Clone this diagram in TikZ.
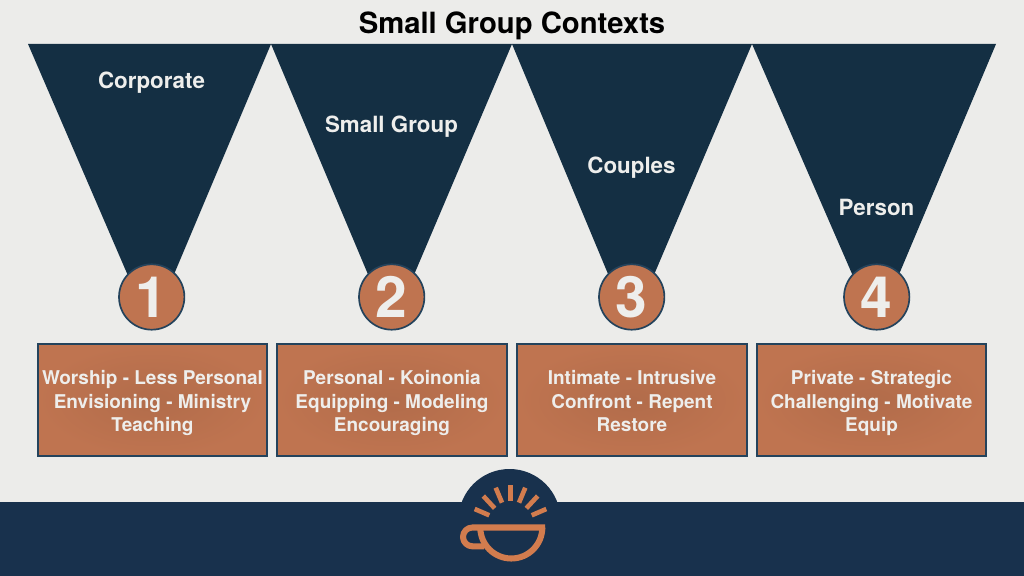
\documentclass[tikz,border=0pt]{standalone}
\usepackage{fontspec}
\setmainfont{TeX Gyre Heros}
\definecolor{paper}{HTML}{ECECEA}
\definecolor{funnel}{HTML}{142F43}
\definecolor{clay}{HTML}{BF7450}
\definecolor{edgeblue}{HTML}{24435C}
\definecolor{band}{HTML}{18314D}
\definecolor{cup}{HTML}{D27C4E}
\definecolor{pale}{HTML}{EEEEEC}
\newcommand{\boxtop}{\rule{0pt}{15.7pt}}
\tikzset{
  funnelshape/.style={fill=funnel},
  numdisc/.style={circle, draw=edgeblue, line width=1.2pt, fill=clay, minimum size=46.5pt, inner sep=0pt,
    text=pale, font=\fontsize{40.5}{40.5}\selectfont\bfseries},
  infobox/.style={rectangle, draw=edgeblue, line width=1.3pt, inner color=clay!93!black, outer color=clay,
    minimum width=163pt, minimum height=80pt, inner sep=0pt, align=center, text=pale,
    font=\fontsize{13.5}{16.7}\selectfont\bfseries,
    execute at end node=\rule[-4pt]{0pt}{4pt}},
  toplabel/.style={text=pale, text height=11.5pt, text depth=3.3pt, font=\fontsize{15.9}{18}\selectfont\bfseries},
  ray/.style={cup, line width=3.3pt},
  cupline/.style={cup, line width=4.3pt, line join=round},
}
\begin{document}
\begin{tikzpicture}[x=0.025cm,y=-0.025cm]
  % Fondo
  \fill[paper] (0,0) rectangle (1024,576);
  \useasboundingbox (0,0) rectangle (1024,576);

  \node[font=\fontsize{20.8}{24}\selectfont\bfseries, text=black] (title) at (512,26) {Small Group Contexts};

  % Embudos
  \fill[funnelshape] (28,44) -- (271,44) -- (151,329) -- cycle;
  \fill[funnelshape] (271,44) -- (512,44) -- (391,329) -- cycle;
  \fill[funnelshape] (512,44) -- (752,44) -- (631,329) -- cycle;
  \fill[funnelshape] (752,44) -- (996,44) -- (876,329) -- cycle;

  \node[toplabel] (corporate) at (151.5,83) {Corporate};
  \node[toplabel] (smallgroup) at (391.5,127) {Small Group};
  \node[toplabel] (couples) at (631.5,168) {Couples};
  \node[toplabel] (person) at (876.5,210) {Person};

  % Numeros
  \node[numdisc] (one) at (151.7,297) {1};
  \node[numdisc] (two) at (391.7,297) {2};
  \node[numdisc] (three) at (631.7,297) {3};
  \node[numdisc] (four) at (876.7,297) {4};

  % Cajas
  \node[infobox] (boxone) at (152.5,400) {\boxtop Worship - Less Personal\\Envisioning - Ministry\\Teaching};
  \node[infobox] (boxtwo) at (392,400) {\boxtop Personal - Koinonia\\Equipping - Modeling\\Encouraging};
  \node[infobox] (boxthree) at (632,400) {\boxtop Intimate - Intrusive\\Confront - Repent\\Restore};
  \node[infobox] (boxfour) at (871.5,400) {\boxtop Private - Strategic\\Challenging - Motivate\\Equip};

  % Banda inferior y logo
  \fill[band] (0,502) rectangle (1024,576);
  \fill[band] (509.5,520) circle (51);

  \draw[ray] (474.7,509) -- (489.3,515.3);
  \draw[ray] (483.3,496) -- (494.7,508.3);
  \draw[ray] (495.7,487.7) -- (502,502.7);
  \draw[ray] (510.5,485) -- (510.5,500.7);
  \draw[ray] (525.3,487.7) -- (519,502.7);
  \draw[ray] (537.7,496) -- (526.3,508.3);
  \draw[ray] (546.3,509) -- (531.7,515.3);

  % Taza
  \draw[cupline] (545,527.5) -- (472.4,527.5)
    arc[start angle=270, end angle=90, radius=9.4] -- (484,546.3);
  \draw[cupline] (542.3,527.5) arc[start angle=0, end angle=180, radius=31];
\end{tikzpicture}
\end{document}
